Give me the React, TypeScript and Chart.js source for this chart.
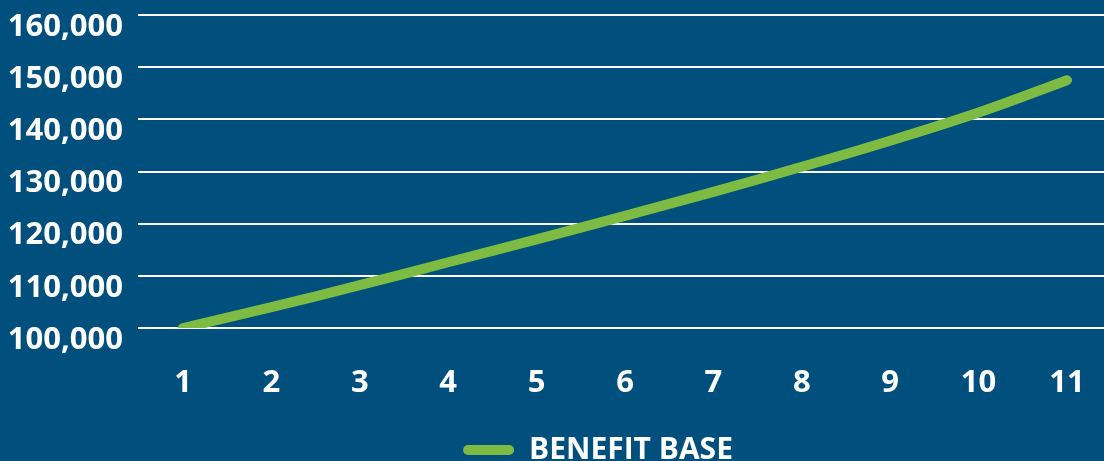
import React, { useEffect, useRef } from "react";
import { Chart, registerables } from "chart.js";

Chart.register(...registerables);

// ---- data ----
const years = [1, 2, 3, 4, 5, 6, 7, 8, 9, 10, 11];
const benefitBase = [100000, 104000, 108200, 112600, 117000, 121500, 126100, 130900, 135900, 141300, 147500];
const yTickValues = [100000, 110000, 120000, 130000, 140000, 150000, 160000];
const seriesLabel = "BENEFIT BASE";

// ---- style ----
const BG = "#004F7D";
const GREEN = "#7DBB42";
const WHITE = "#FFFFFF";
const FAMILY = "'Open Sans', 'Noto Sans', sans-serif";
const AXIS_FONT = { family: FAMILY, size: 31, weight: "bold" as const };
const LEGEND_FONT = { family: FAMILY, size: 30, weight: "bold" as const };
const CANVAS_W = 1104;
const CANVAS_H = 475;

const bgPlugin = {
  id: "bgFill",
  beforeDraw(chart: any) {
    const { ctx, width, height } = chart;
    ctx.save();
    ctx.fillStyle = BG;
    ctx.fillRect(0, 0, width, height);
    ctx.restore();
  },
};

const legendShift = {
  id: "legendShift",
  afterLayout(chart: any) {
    const lg = chart.legend;
    if (lg) {
      lg.left += 46;
      lg.right += 46;
    }
  },
};

export default function App() {
  const ref = useRef<HTMLCanvasElement>(null);

  useEffect(() => {
    const canvas = ref.current;
    if (!canvas) return;
    const chart = new Chart(canvas, {
      type: "line",
      data: {
        datasets: [
          {
            label: seriesLabel,
            data: years.map((x, i) => ({ x, y: benefitBase[i] })),
            borderColor: GREEN,
            backgroundColor: GREEN,
            borderWidth: 10,
            borderCapStyle: "round",
            borderJoinStyle: "round",
            tension: 0.4,
            pointRadius: 0,
            pointHoverRadius: 0,
            fill: false,
          },
        ],
      },
      options: {
        animation: false,
        responsive: false,
        devicePixelRatio: 1,
        layout: { padding: { top: 15, left: 0, right: 0, bottom: 0 } },
        plugins: {
          tooltip: { enabled: false },
          legend: {
            position: "bottom",
            labels: {
              color: WHITE,
              font: LEGEND_FONT,
              boxWidth: 51,
              boxHeight: 10,
              padding: 10,
              generateLabels: (c: any) =>
                Chart.defaults.plugins.legend.labels.generateLabels(c).map((l: any) => ({
                  ...l,
                  lineWidth: 0,
                  fillStyle: GREEN,
                  strokeStyle: GREEN,
                  borderRadius: 5,
                })),
            },
          },
        },
        scales: {
          x: {
            type: "linear",
            min: 0.491,
            max: 11.4186,
            grid: { display: false },
            border: { display: false },
            afterBuildTicks: (s: any) => {
              s.ticks = years.map((v) => ({ value: v }));
            },
            afterFit: (s: any) => {
              s.height = 97;
              s.paddingLeft = 0;
              s.paddingRight = 0;
            },
            ticks: {
              color: WHITE,
              font: AXIS_FONT,
              padding: 29,
              maxRotation: 0,
              autoSkip: false,
              callback: (v: any) => String(v),
            },
          },
          y: {
            type: "linear",
            min: 100000,
            max: 160000,
            afterBuildTicks: (s: any) => {
              s.ticks = yTickValues.map((v) => ({ value: v }));
            },
            afterFit: (s: any) => {
              s.width = 138;
              s.paddingTop = 0;
              s.paddingBottom = 0;
            },
            grid: { color: WHITE, lineWidth: 2, drawTicks: false },
            border: { display: false },
            ticks: {
              color: WHITE,
              font: AXIS_FONT,
              padding: 15,
              labelOffset: 12,
              callback: (v: any) => Number(v).toLocaleString("en-US"),
            },
          },
        },
      },
      plugins: [bgPlugin, legendShift],
    } as any);
    return () => chart.destroy();
  }, []);

  return (
    <div
      style={{
        position: "fixed",
        left: 0,
        top: 0,
        width: CANVAS_W,
        height: 461,
        overflow: "hidden",
        background: BG,
      }}
    >
      <canvas
        ref={ref}
        width={CANVAS_W}
        height={CANVAS_H}
        style={{ display: "block", width: CANVAS_W, height: CANVAS_H }}
      />
    </div>
  );
}
